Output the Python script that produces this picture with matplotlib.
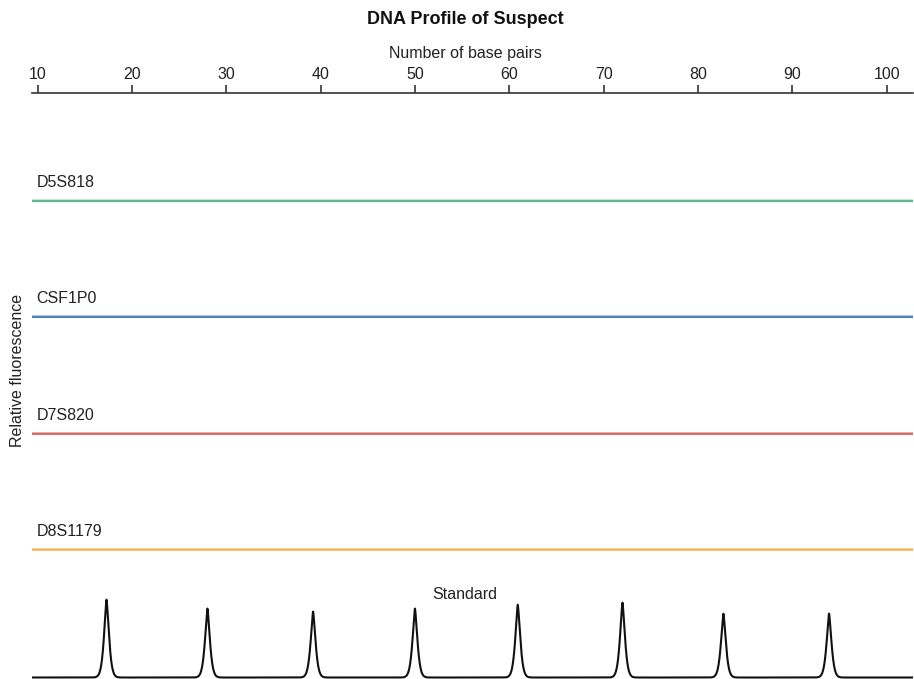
import numpy as np
import matplotlib
matplotlib.use("Agg")
import matplotlib.pyplot as plt

plt.rcParams["font.family"] = ["Liberation Sans", "DejaVu Sans"]

# Data
loci = ["D5S818", "CSF1P0", "D7S820", "D8S1179"]
locus_colors = ["#5fb98a", "#4f84c4", "#d46a66", "#f5b45c"]
locus_offsets = [477, 361, 244, 128]
standard_positions = [17.3, 28.0, 39.2, 50.0, 60.9, 72.0, 82.7, 93.9]
standard_heights = [78, 69, 66, 69, 73, 75, 64, 64]
tick_values = [10, 20, 30, 40, 50, 60, 70, 80, 90, 100]

fig = plt.figure(figsize=(9.14, 6.79), dpi=100)
ax = fig.add_axes([32/914, 0.0, 881/914, 1 - 93/679])
xmin, xmax = 9.4, 102.8
ax.set_xlim(xmin, xmax)
ax.set_ylim(-1.5, 585)

x = np.linspace(xmin, xmax, 8000)
for name, col, off in zip(loci, locus_colors, locus_offsets):
    ax.plot(x, np.full_like(x, off), color=col, lw=1.8, solid_capstyle="butt")
    ax.text(9.9, off + 11, name, fontsize=11.5, color="#222222", ha="left", va="bottom")

y = np.zeros_like(x)
for p, h in zip(standard_positions, standard_heights):
    y += h * np.exp(-(np.abs(x - p) / 0.37) ** 1.45)
ax.plot(x, y, color="#111111", lw=1.5)
ax.text(55.3, 76, "Standard", fontsize=11.5, ha="center", va="bottom", color="#222222")

# Top axis
for s in ["left", "right", "bottom"]:
    ax.spines[s].set_visible(False)
ax.spines["top"].set_linewidth(1.2)
ax.spines["top"].set_color("#333333")
ax.xaxis.set_ticks_position("top")
ax.xaxis.set_label_position("top")
ax.set_xticks(tick_values)
ax.set_xticklabels([str(v) for v in tick_values], fontsize=11.5, color="#222222")
ax.tick_params(axis="x", direction="out", length=6, width=1.2, color="#333333", pad=2)
ax.set_yticks([])
ax.set_xlabel("Number of base pairs", fontsize=11.5, color="#222222")
ax.xaxis.set_label_coords((465 - 32) / 881, 1 + (93 - 58) / 586)

fig.text(18/914, 1 - 370/679, "Relative fluorescence", rotation=90, fontsize=11.5,
         ha="center", va="center", color="#222222")
fig.text(465/914, 1 - 19/679, "DNA Profile of Suspect", fontsize=13, fontweight="bold",
         ha="center", va="center", color="#111111")

fig.savefig("out.png", dpi=100)
